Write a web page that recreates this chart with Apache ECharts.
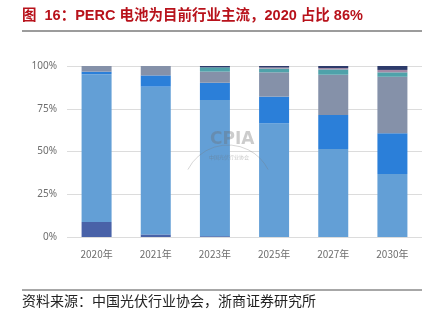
<!DOCTYPE html>
<html>
<head>
<meta charset="utf-8">
<script src="https://cdn.jsdelivr.net/npm/echarts@6/dist/echarts.min.js"></script>
<style>
  html, body { margin: 0; padding: 0; background: #fff; }
  #chart { width: 436px; height: 324px; }
</style>
</head>
<body>
<div id="chart"></div>
<script>
// Cell technology market share (%), bottom to top in each stacked bar
const years = ['2020年', '2021年', '2023年', '2025年', '2027年', '2030年'];
const bsf    = [8.8, 1.5, 0.5, 0, 0, 0];
const perc   = [86.4, 86.4, 79.6, 66.5, 51.5, 36.8];
const topcon = [1.5, 6.6, 10.1, 15.6, 19.8, 23.8];
const hjt    = [3.3, 5.5, 6.5, 14.2, 23.6, 33.1];
const xbc    = [0, 0, 2.5, 2.2, 3.1, 2.6];
const tbc    = [0, 0, 0, 0.6, 0.8, 1.4];
const others = [0, 0, 0.8, 0.9, 1.2, 2.3];
const yTicks = [0, 25, 50, 75, 100];

const seriesDefs = [
  { name: 'BSF', data: bsf, color: '#4962a8' },
  { name: 'PERC', data: perc, color: '#639fd6' },
  { name: 'TOPCon', data: topcon, color: '#2b7fd9' },
  { name: 'HJT', data: hjt, color: '#8591a9' },
  { name: 'XBC', data: xbc, color: '#4fa2aa' },
  { name: 'TBC', data: tbc, color: '#a48aa6' },
  { name: '其他', data: others, color: '#2d3b6b' }
];

const chart = echarts.init(document.getElementById('chart'), null, { renderer: 'canvas' });

chart.setOption({
  animation: false,
  backgroundColor: '#ffffff',
  grid: { left: 67, right: 14, top: 66, bottom: 87, containLabel: false },
  xAxis: {
    type: 'category',
    data: years,
    axisLine: { show: false },
    axisTick: { show: false },
    axisLabel: { color: '#6e6e6e', fontSize: 10, margin: 12, fontFamily: 'Noto Sans CJK SC' }
  },
  yAxis: {
    type: 'value',
    min: yTicks[0],
    max: yTicks[yTicks.length - 1],
    interval: 25,
    axisLine: { show: false },
    axisTick: { show: false },
    axisLabel: { color: '#6e6e6e', fontSize: 10, margin: 10, formatter: '{value}%', fontFamily: 'Noto Sans' },
    splitLine: { lineStyle: { color: '#dcdcdc', width: 1 } }
  },
  series: seriesDefs.map(s => ({
    name: s.name,
    type: 'bar',
    stack: 'share',
    barWidth: 30,
    data: s.data,
    itemStyle: { color: s.color }
  })),
  graphic: [
    {
      type: 'text', left: 22, top: 9,
      style: { text: '图  16：PERC 电池为目前行业主流，2020 占比 86%', fill: '#b8121b',
               font: 'bold 14.5px "Liberation Sans", "Noto Sans CJK SC", sans-serif' }
    },
    {
      type: 'line', shape: { x1: 22, y1: 31, x2: 422, y2: 31 },
      style: { stroke: '#3a3a3a', lineWidth: 1.2 }
    },
    {
      type: 'line', shape: { x1: 22, y1: 290, x2: 422, y2: 290 },
      style: { stroke: '#8a8a8a', lineWidth: 1.5 }
    },
    {
      type: 'text', left: 22, top: 294,
      style: { text: '资料来源：中国光伏行业协会，浙商证券研究所', fill: '#222222',
               font: '14px "Noto Sans CJK SC", sans-serif' }
    },
    // faint association watermark
    { type: 'text', x: 210, y: 131, z: 100, silent: true,
      style: { text: 'CPIA', fill: 'rgba(110,110,110,0.35)', font: 'bold 17px "DejaVu Sans", sans-serif' } },
    { type: 'arc', z: 100, silent: true,
      shape: { cx: 228, cy: 190, r: 45, startAngle: Math.PI * 1.15, endAngle: Math.PI * 1.85 },
      style: { stroke: 'rgba(120,120,120,0.3)', lineWidth: 1, fill: null } },
    { type: 'text', x: 209, y: 155, z: 100, silent: true,
      style: { text: '中国光伏行业协会', fill: 'rgba(110,110,110,0.4)', font: '5px "Noto Sans CJK SC", sans-serif' } }
  ]
});
</script>
</body>
</html>
